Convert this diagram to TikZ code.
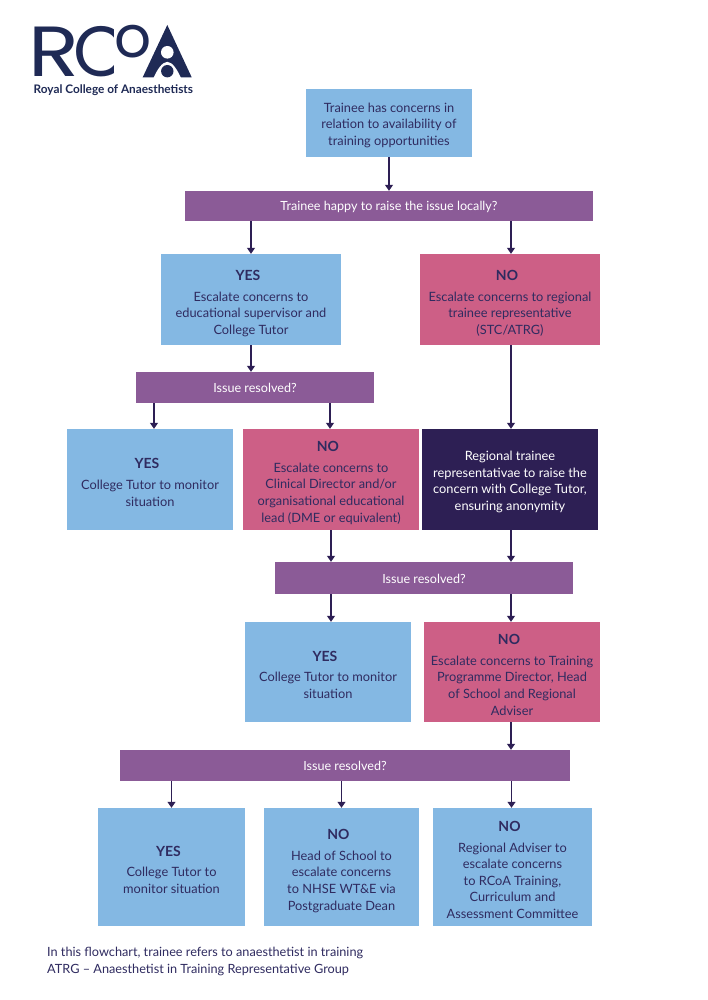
\documentclass[tikz,border=0pt]{standalone}
\usepackage{fontspec}
\setmainfont{Lato}
\newfontfamily\logofont{Poppins}
\usetikzlibrary{arrows.meta}
\definecolor{ink}{HTML}{2F2B60}
\definecolor{logoink}{HTML}{1F2A55}
\definecolor{bluebox}{HTML}{84B8E3}
\definecolor{pinkbox}{HTML}{CD5F86}
\definecolor{purplebox}{HTML}{8B5B97}
\definecolor{darkbox}{HTML}{2D1F54}
\tikzset{
  box/.style={inner sep=0pt,font=\fontsize{12.8}{16.6}\selectfont,text=ink,anchor=center},
  bluecard/.style={box,fill=bluebox},
  pinkcard/.style={box,fill=pinkbox},
  darkcard/.style={box,fill=darkbox,text=white},
  question/.style={box,fill=purplebox,text=white,font=\fontsize{12.6}{15}\selectfont},
  arr/.style={draw=darkbox,line width=1.1pt,-{Triangle[length=6pt,width=8pt]}}
}
% text block lowered by #1 without moving the box round it
\newcommand{\tx}[2]{\raisebox{-#1}[\height][\depth]{\begin{tabular}{@{}c@{}}#2\end{tabular}}}
\newcommand{\hd}[1]{{\fontsize{14}{16.6}\selectfont\bfseries #1}\kern6pt\\[4.2pt]}
\begin{document}
\begin{tikzpicture}[x=1pt,y=-1pt]
\useasboundingbox (0,0) rectangle (707,1000);
\fill[white] (0,0) rectangle (707,1000);
% logo
\node[anchor=base west,inner sep=0pt,text=logoink,xscale=1.18,font=\logofont\fontsize{71}{71}\selectfont] (logoR) at (28,76.5) {R};
\begin{scope}
\clip (70,15) rectangle (113.5,85);
\node[anchor=base west,inner sep=0pt,text=logoink,font=\logofont\fontsize{71}{71}\selectfont] (logoC) at (73.5,76.5) {C};
\end{scope}
\node[anchor=base west,inner sep=0pt,text=logoink,font=\logofont\fontsize{58}{58}\selectfont] (logoO) at (114,57.5) {o};
\fill[logoink] (167.3,25) -- (191.7,77.3) -- (142.7,77.3) -- cycle;
\fill[white] (167.3,52.3) circle (6.3pt);
\fill[white] (153.5,78) .. controls (157,70) and (162,62) .. (167.3,61.8) .. controls (172.5,62) and (177.5,70) .. (181,78) -- cycle;
\fill[logoink] (167.3,71.2) circle (6.2pt);
\node[anchor=base west,inner sep=0pt,text=logoink,font=\fontsize{11.8}{12}\selectfont\bfseries] (logoT) at (33.5,94) {Royal College of Anaesthetists};
% boxes
\node[bluecard,minimum width=166pt,minimum height=68pt] (start) at (389,123) {\tx{2.5pt}{Trainee has concerns in\\relation to availability of\\training opportunities}};
\node[question,minimum width=408pt,minimum height=30pt] (q1) at (389,206) {\tx{2pt}{Trainee happy to raise the issue locally?}};
\node[bluecard,minimum width=180pt,minimum height=91pt] (y1) at (251,299.5) {\tx{4.5pt}{\hd{YES}Escalate concerns to\\educational supervisor and\\College Tutor}};
\node[pinkcard,minimum width=180pt,minimum height=91pt] (n1) at (510,299.5) {\tx{4.5pt}{\hd{NO}Escalate concerns to regional\\trainee representative\\(STC/ATRG)}};
\node[question,minimum width=238pt,minimum height=31pt] (q2) at (255,387.5) {\tx{2pt}{Issue resolved?}};
\node[bluecard,minimum width=166pt,minimum height=101pt] (y2) at (150,479.5) {\tx{4.5pt}{\hd{YES}College Tutor to monitor\\situation}};
\node[pinkcard,minimum width=176pt,minimum height=101pt] (n2) at (331,479.5) {\tx{4pt}{\hd{NO}Escalate concerns to\\Clinical Director and/or\\organisational educational\\lead (DME or equivalent)}};
\node[darkcard,minimum width=176pt,minimum height=101pt] (rep) at (510,479.5) {\tx{2.5pt}{Regional trainee\\representativae to raise the\\concern with College Tutor,\\ensuring anonymity}};
\node[question,minimum width=298pt,minimum height=32pt] (q3) at (424,578) {\tx{2pt}{Issue resolved?}};
\node[bluecard,minimum width=166pt,minimum height=100pt] (y3) at (328,672) {\tx{4.5pt}{\hd{YES}College Tutor to monitor\\situation}};
\node[pinkcard,minimum width=176pt,minimum height=100pt] (n3) at (512,672) {\tx{4.5pt}{\hd{NO}Escalate concerns to Training\\Programme Director, Head\\of School and Regional\\Adviser}};
\node[question,minimum width=450pt,minimum height=31pt] (q4) at (345,765.5) {\tx{2pt}{Issue resolved?}};
\node[bluecard,minimum width=147pt,minimum height=118pt] (y4) at (171.5,867) {\tx{4.5pt}{\hd{YES}College Tutor to\\monitor situation}};
\node[bluecard,minimum width=155pt,minimum height=118pt] (n4) at (341.5,867) {\tx{4.5pt}{\hd{NO}Head of School to\\escalate concerns\\to NHSE WT\&E via\\Postgraduate Dean}};
\node[bluecard,minimum width=159pt,minimum height=118pt] (n5) at (512.5,867) {\tx{4.5pt}{\hd{NO}Regional Adviser to\\escalate concerns\\to RCoA Training,\\Curriculum and\\Assessment Committee}};
% connectors
\draw[arr] (start.south) -- (q1.north);
\draw[arr] (q1.south -| y1.north) -- (y1.north);
\draw[arr] ([xshift=1pt]q1.south -| n1.north) -- ([xshift=1pt]n1.north);
\draw[arr] (y1.south) -- (y1.south |- q2.north);
\draw[arr] ([xshift=4pt]q2.south -| y2.north) -- ([xshift=4pt]y2.north);
\draw[arr] ([xshift=-1pt]q2.south -| n2.north) -- ([xshift=-1pt]n2.north);
\draw[arr] ([xshift=1pt]n1.south) -- ([xshift=1pt]rep.north);
\draw[arr] (n2.south) -- (n2.south |- q3.north);
\draw[arr] ([xshift=1pt]rep.south) -- ([xshift=1pt]rep.south |- q3.north);
\draw[arr] ([xshift=3pt]q3.south -| y3.north) -- ([xshift=3pt]y3.north);
\draw[arr] ([xshift=-1pt]q3.south -| n3.north) -- ([xshift=-1pt]n3.north);
\draw[arr] ([xshift=-1pt]n3.south) -- ([xshift=-1pt]n3.south |- q4.north);
\draw[arr] (q4.south -| y4.north) -- (y4.north);
\draw[arr] (q4.south -| n4.north) -- (n4.north);
\draw[arr] ([xshift=-1pt]q4.south -| n5.north) -- ([xshift=-1pt]n5.north);
% footer
\node[anchor=north west,inner sep=0pt,align=left,text=ink,font=\fontsize{12.7}{16.6}\selectfont] (foot) at (47,947) {In this flowchart, trainee refers to anaesthetist in training\\ATRG – Anaesthetist in Training Representative Group};
\end{tikzpicture}
\end{document}
